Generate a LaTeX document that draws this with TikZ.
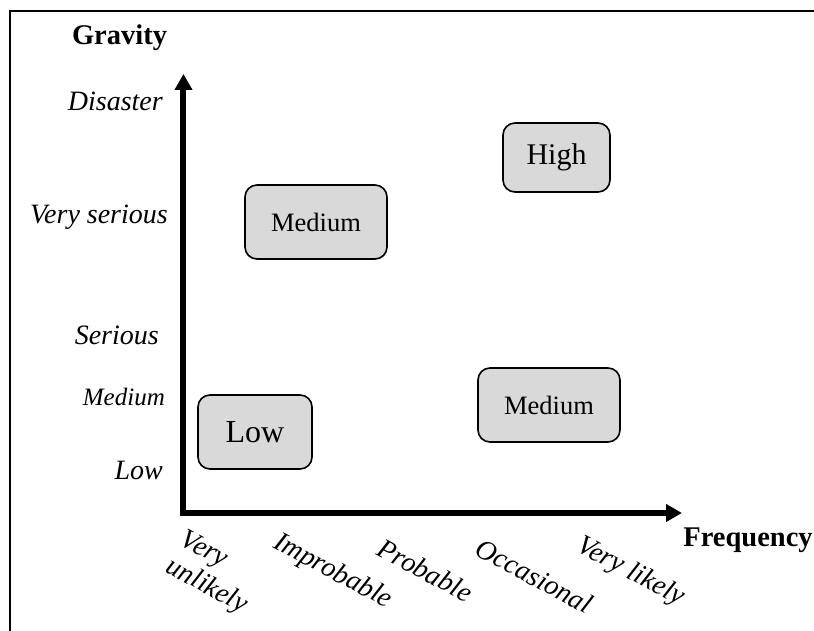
\documentclass[tikz,border=0pt]{standalone}
\usepackage{fontspec}
\setmainfont{Liberation Serif}
\usetikzlibrary{calc,arrows.meta}

\begin{document}
\begin{tikzpicture}[x=1pt,y=1pt,
    riskbox/.style={draw, line width=1.6pt, fill=gray!30, rounded corners=12pt,
      minimum height=74pt, inner sep=0pt},
    gravlabel/.style={anchor=base east, inner sep=0pt, font=\fontsize{28}{32}\selectfont\itshape},
    freqlabel/.style={anchor=north west, rotate=-28, align=left, inner sep=0pt,
      font=\fontsize{28}{31}\selectfont\itshape},
    axistitle/.style={anchor=base, inner sep=0pt, font=\fontsize{28.5}{32}\selectfont\bfseries},
    axisline/.style={line width=6pt, {Triangle[width=17pt,length=16pt]}-{Triangle[width=17pt,length=16pt]}}]
  \useasboundingbox (-183.5,-118) rectangle (630.5,513);
  \draw[line width=2pt] (-173,-118) -- (-173,502) -- (630.5,502);

  \coordinate (o) at (0,0);
  \coordinate (ytip) at ($(o) + (0,439)$);
  \coordinate (xtip) at ($(o) + (498.5,0)$);
  \draw[axisline] (ytip) -- (o) -- (xtip);

  \node[axistitle] at ($(o) + (-64,468)$) (gravity) {Gravity};
  \node[axistitle] at ($(o) + (564.5,-34)$) (frequency) {Frequency};

  \node[gravlabel] at ($(o) + (-20.5,402)$) (g5) {Disaster};
  \node[gravlabel] at ($(o) + (-15.5,289)$) (g4) {Very serious};
  \node[gravlabel] at ($(o) + (-24.5,168)$) (g3) {Serious};
  \node[gravlabel, font=\fontsize{25}{30}\selectfont\itshape] at ($(o) + (-18.5,107)$) (g2) {Medium};
  \node[gravlabel] at ($(o) + (-20.5,33)$) (g1) {Low};

  \node[freqlabel] at ($(o) + (4,-15)$) (f1) {Very\\unlikely};
  \node[freqlabel] at ($(o) + (98,-17)$) (f2) {Improbable};
  \node[freqlabel] at ($(o) + (201,-24)$) (f3) {Probable};
  \node[freqlabel] at ($(o) + (299,-24)$) (f4) {Occasional};
  \node[freqlabel] at ($(o) + (401,-20)$) (f5) {Very likely};

  \node[riskbox, minimum width=142pt, font=\fontsize{26.5}{30}\selectfont] at ($(o) + (132.5,291)$) (med1) {Medium};
  \node[riskbox, minimum width=107pt, minimum height=69pt, font=\fontsize{30}{34}\selectfont] at ($(o) + (373,355.5)$) (high) {High};
  \node[riskbox, minimum width=142pt, font=\fontsize{26.5}{30}\selectfont] at ($(o) + (365.5,108)$) (med2) {Medium};
  \node[riskbox, minimum width=114pt, font=\fontsize{32}{36}\selectfont] at ($(o) + (71.5,81)$) (low) {Low};
\end{tikzpicture}
\end{document}
